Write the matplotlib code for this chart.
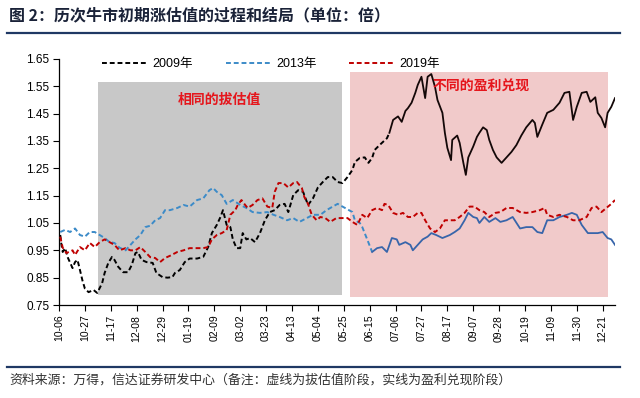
import matplotlib
matplotlib.use("Agg")
import matplotlib.pyplot as plt
import numpy as np
from matplotlib.lines import Line2D
from matplotlib.patches import Rectangle

plt.rcParams["font.family"] = ["Liberation Sans", "Noto Sans CJK SC", "DejaVu Sans"]

# x axis: calendar days counted from 10-06, one tick label every 21 days
x_tick_labels = ["10-06", "10-27", "11-17", "12-08", "12-29", "01-19", "02-09",
                 "03-02", "03-23", "04-13", "05-04", "05-25", "06-15", "07-06",
                 "07-27", "08-17", "09-07", "09-28", "10-19", "11-09", "11-30",
                 "12-21"]
tick_step_days = 21
y_ticks = [0.75, 0.85, 0.95, 1.05, 1.15, 1.25, 1.35, 1.45, 1.55, 1.65]

# 2009: dashed (valuation) until day 268, solid afterwards
days_2009 = [1, 2, 3, 5, 7, 11, 13, 15, 17, 19,
             21, 24, 28, 31, 35, 37, 40, 43, 45, 48,
             52, 56, 59, 62, 64, 67, 71, 76, 79, 84,
             88, 92, 94, 98, 102, 106, 112, 117, 121, 124,
             128, 131, 133, 136, 139, 141, 144, 147, 149, 152,
             155, 159, 163, 167, 171, 175, 179, 183, 186, 190,
             194, 198, 202, 206, 210, 214, 218, 222, 226, 230,
             234, 238, 240, 244, 248, 251, 254, 256, 260, 266,
             268, 271, 275, 278, 281, 283, 286, 289, 291, 294,
             297, 299, 302, 305, 307, 311, 313, 315, 318, 319,
             323, 325, 328, 330, 332, 336, 339, 341, 344, 347,
             349, 352, 355, 359, 363, 367, 371, 375, 379, 384,
             386, 388, 392, 396, 401, 406, 410, 414, 417, 420,
             424, 428, 431, 435, 437, 440, 443, 445, 448, 451]
vals_2009 = [1.006, 0.970, 0.944, 0.958, 0.925, 0.885, 0.907, 0.915, 0.878, 0.840,
             0.810, 0.797, 0.805, 0.794, 0.830, 0.867, 0.904, 0.926, 0.915, 0.890,
             0.870, 0.870, 0.896, 0.940, 0.944, 0.915, 0.907, 0.904, 0.867, 0.852,
             0.850, 0.852, 0.867, 0.878, 0.907, 0.920, 0.920, 0.926, 0.962, 1.013,
             1.043, 1.072, 1.097, 1.043, 1.035, 0.990, 0.958, 0.958, 1.013, 0.990,
             0.995, 0.980, 1.013, 1.060, 1.090, 1.097, 1.116, 1.120, 1.090, 1.152,
             1.170, 1.164, 1.116, 1.140, 1.180, 1.200, 1.218, 1.218, 1.200, 1.196,
             1.218, 1.244, 1.273, 1.288, 1.290, 1.270, 1.288, 1.317, 1.335, 1.360,
             1.380, 1.427, 1.440, 1.420, 1.460, 1.470, 1.490, 1.526, 1.555, 1.585,
             1.507, 1.585, 1.595, 1.548, 1.500, 1.453, 1.380, 1.325, 1.280, 1.354,
             1.370, 1.343, 1.270, 1.226, 1.290, 1.330, 1.365, 1.380, 1.400, 1.390,
             1.354, 1.317, 1.290, 1.270, 1.290, 1.310, 1.335, 1.370, 1.400, 1.427,
             1.416, 1.365, 1.410, 1.453, 1.464, 1.490, 1.526, 1.530, 1.427, 1.475,
             1.526, 1.530, 1.493, 1.510, 1.453, 1.434, 1.400, 1.453, 1.475, 1.507]
split_2009 = 268

# 2013: dashed until day 254, solid afterwards
days_2013 = [1, 5, 9, 13, 17, 21, 25, 29, 33, 37,
             41, 45, 49, 54, 58, 62, 66, 70, 74, 78,
             82, 86, 90, 96, 101, 106, 112, 117, 122, 125,
             128, 132, 136, 141, 147, 152, 157, 163, 169, 174,
             179, 185, 190, 195, 201, 206, 212, 217, 222, 226,
             230, 232, 238, 240, 244, 246, 250, 254, 258, 262,
             266, 270, 274, 276, 281, 285, 287, 291, 295, 299,
             302, 306, 311, 317, 321, 325, 329, 332, 336, 339,
             341, 345, 349, 354, 358, 363, 368, 374, 379, 384,
             388, 392, 396, 401, 406, 412, 416, 420, 424, 429,
             433, 437, 441, 445, 448, 451]
vals_2013 = [1.017, 1.025, 1.017, 1.030, 1.006, 1.000, 1.017, 1.017, 1.006, 0.995,
             0.980, 0.977, 0.960, 0.950, 0.970, 0.990, 1.006, 1.035, 1.040, 1.060,
             1.068, 1.097, 1.097, 1.105, 1.116, 1.110, 1.134, 1.140, 1.170, 1.178,
             1.164, 1.152, 1.120, 1.134, 1.116, 1.105, 1.090, 1.087, 1.090, 1.080,
             1.072, 1.060, 1.068, 1.054, 1.068, 1.080, 1.080, 1.097, 1.110, 1.120,
             1.110, 1.105, 1.090, 1.060, 1.050, 1.035, 0.990, 0.944, 0.958, 0.962,
             0.944, 0.995, 0.990, 0.970, 0.980, 0.970, 0.950, 0.970, 0.990, 1.000,
             1.013, 1.006, 0.995, 1.006, 1.017, 1.030, 1.060, 1.087, 1.072, 1.068,
             1.050, 1.072, 1.054, 1.068, 1.054, 1.060, 1.072, 1.030, 1.035, 1.035,
             1.017, 1.013, 1.060, 1.060, 1.072, 1.080, 1.087, 1.080, 1.043, 1.013,
             1.013, 1.013, 1.017, 0.995, 0.990, 0.970]
split_2013 = 254

# 2019: dashed for the whole period
days_2019 = [1, 3, 6, 11, 13, 17, 21, 25, 29, 33,
             37, 41, 45, 49, 54, 58, 62, 66, 70, 74,
             78, 82, 86, 90, 96, 101, 106, 112, 117, 121,
             124, 128, 132, 136, 139, 143, 145, 148, 151, 153,
             157, 161, 165, 169, 173, 175, 178, 182, 186, 190,
             193, 197, 199, 202, 205, 209, 212, 216, 220, 225,
             230, 234, 238, 242, 246, 250, 254, 258, 262, 264,
             267, 271, 275, 279, 283, 287, 291, 294, 297, 301,
             305, 309, 313, 317, 321, 325, 329, 333, 337, 341,
             345, 349, 354, 358, 363, 368, 374, 379, 384, 390,
             394, 396, 401, 406, 412, 417, 422, 428, 432, 436,
             440, 444, 448, 451]
vals_2019 = [1.000, 0.960, 0.940, 0.950, 0.933, 0.962, 0.950, 0.977, 0.962, 0.980,
             0.990, 0.980, 0.970, 0.950, 0.958, 0.950, 0.950, 0.962, 0.944, 0.925,
             0.922, 0.907, 0.922, 0.930, 0.944, 0.950, 0.958, 0.958, 0.958, 0.962,
             0.990, 1.006, 1.013, 1.024, 1.080, 1.097, 1.116, 1.134, 1.116, 1.105,
             1.116, 1.134, 1.140, 1.110, 1.105, 1.164, 1.196, 1.196, 1.180, 1.196,
             1.200, 1.178, 1.145, 1.120, 1.080, 1.060, 1.072, 1.068, 1.054, 1.068,
             1.068, 1.068, 1.054, 1.043, 1.080, 1.068, 1.097, 1.105, 1.097, 1.120,
             1.116, 1.087, 1.080, 1.087, 1.072, 1.072, 1.087, 1.087, 1.060, 1.030,
             1.017, 1.030, 1.060, 1.060, 1.060, 1.072, 1.087, 1.110, 1.110, 1.097,
             1.090, 1.072, 1.087, 1.090, 1.105, 1.105, 1.090, 1.087, 1.090, 1.097,
             1.105, 1.080, 1.072, 1.080, 1.072, 1.060, 1.060, 1.072, 1.105, 1.110,
             1.090, 1.105, 1.120, 1.134]
split_2019 = None

# shaded phases: (start day, end day, bottom, top)
phase_valuation = (31.5, 229.5, 0.788, 1.566)
phase_earnings = (236, 445, 0.780, 1.603)

NAVY = "#1F3864"
DASH = (0, (2.5, 1.5))

series = [
    ("2009年", days_2009, vals_2009, split_2009, "#000000", "#140808"),
    ("2013年", days_2013, vals_2013, split_2013, "#3C8BC8", "#3865AA"),
    ("2019年", days_2019, vals_2019, split_2019, "#C00000", "#C00000"),
]

fig = plt.figure(figsize=(6.4, 3.98), dpi=100)
ax = fig.add_axes([59 / 640, 1 - 305 / 398, (615 - 59) / 640, (305 - 59) / 398])

for x0, x1, y0, y1 in [phase_valuation]:
    ax.add_patch(Rectangle((x0, y0), x1 - x0, y1 - y0, color="#C8C8C8", lw=0, zorder=1))
for x0, x1, y0, y1 in [phase_earnings]:
    ax.add_patch(Rectangle((x0, y0), x1 - x0, y1 - y0, color="#F1CACA", lw=0, zorder=1))

handles = []
for label, days, vals, split, c_dash, c_solid in series:
    d = np.array(days)
    v = np.array(vals)
    if split is None:
        ax.plot(d, v, color=c_dash, lw=1.4, linestyle=DASH, zorder=3)
    else:
        m1 = d <= split
        m2 = d >= split
        ax.plot(d[m1], v[m1], color=c_dash, lw=1.4, linestyle=DASH, zorder=3)
        ax.plot(d[m2], v[m2], color=c_solid, lw=1.3, zorder=3)
    handles.append(Line2D([], [], color=c_dash, lw=1.4, linestyle=DASH, label=label))

ax.set_xlim(0, 451)
ax.set_ylim(0.75, 1.65)
ax.set_xticks(np.arange(len(x_tick_labels)) * tick_step_days)
ax.set_xticklabels(x_tick_labels, rotation=90, fontsize=7.5)
ax.set_yticks(y_ticks)
ax.set_yticklabels([f"{t:.2f}" for t in y_ticks], fontsize=8.5)
ax.tick_params(axis="both", direction="out", length=4, width=0.8, color="black", pad=3)
for side in ["top", "right"]:
    ax.spines[side].set_visible(False)
for side in ["left", "bottom"]:
    ax.spines[side].set_linewidth(0.9)

ax.text(130, 1.50, "相同的拔估值", color="#E5161C", fontsize=10, fontweight="bold",
        family=["Noto Sans CJK SC"], ha="center", va="center", zorder=4)
ax.text(342, 1.548, "不同的盈利兑现", color="#E5161C", fontsize=10, fontweight="bold",
        family=["Noto Sans CJK SC"], ha="center", va="center", zorder=4)

fig.legend(handles=handles, loc="upper left", bbox_to_anchor=(102 / 640, 1 - 58 / 398),
           ncol=3, frameon=False, fontsize=9, handlelength=3.7, handletextpad=0.35,
           columnspacing=2.6, borderpad=0, borderaxespad=0)

fig.text(9 / 640, 1 - 15 / 398, "图 2：历次牛市初期涨估值的过程和结局（单位：倍）",
         family=["Noto Sans CJK SC"], fontsize=11.5, fontweight="bold", color="#1A2238",
         ha="left", va="center")
fig.add_artist(Line2D([7 / 640, 620 / 640], [1 - 33 / 398] * 2, color=NAVY, lw=1.6))
fig.add_artist(Line2D([7 / 640, 620 / 640], [1 - 367 / 398] * 2, color=NAVY, lw=1.6))
fig.text(9 / 640, 1 - 380 / 398,
         "资料来源：万得，信达证券研发中心（备注：虚线为拔估值阶段，实线为盈利兑现阶段）",
         family=["Noto Sans CJK SC"], fontsize=9.3, style="italic", color="#333333",
         ha="left", va="center")

fig.savefig("out.png", dpi=100)
